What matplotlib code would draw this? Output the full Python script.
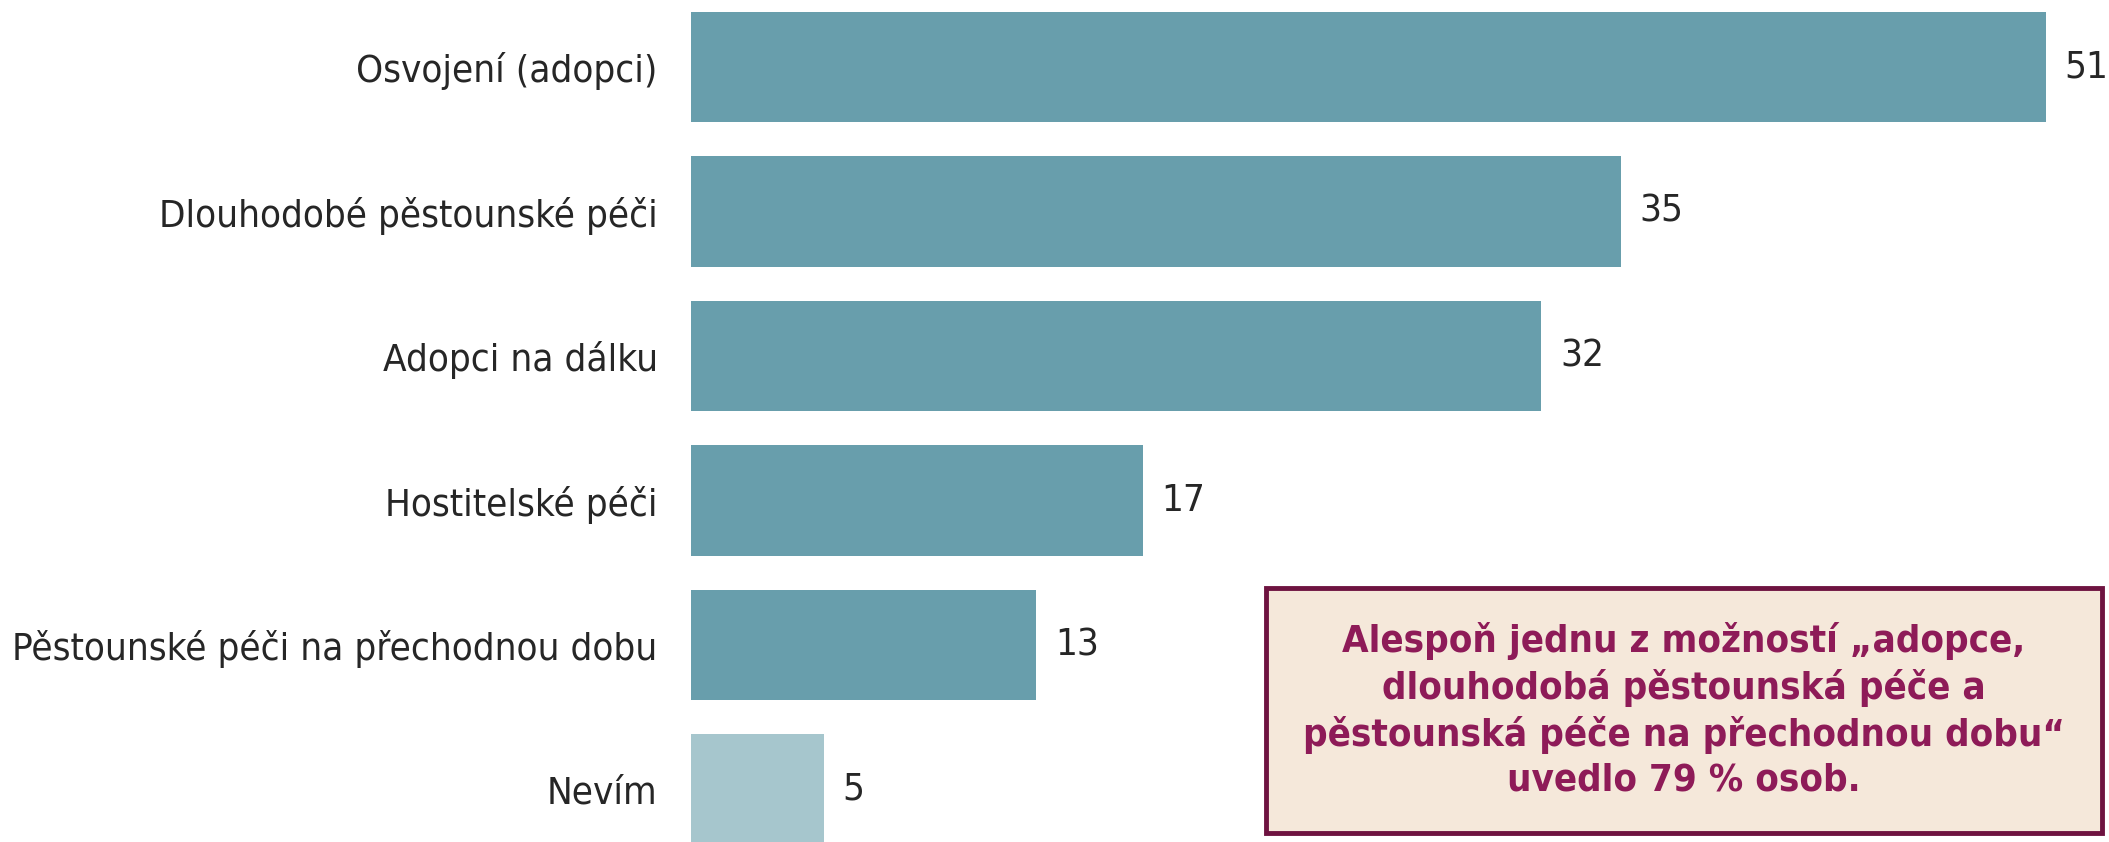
import matplotlib.pyplot as plt
from matplotlib.patches import Rectangle

# data
categories = ['Osvojení (adopci)', 'Dlouhodobé pěstounské péči', 'Adopci na dálku',
              'Hostitelské péči', 'Pěstounské péči na přechodnou dobu', 'Nevím']
values = [51, 35, 32, 17, 13, 5]
note = ('Alespoň jednu z možností „adopce,\n'
        'dlouhodobá pěstounská péče a\n'
        'pěstounská péče na přechodnou dobu“\n'
        'uvedlo 79 % osob.')

bar_color = '#689EAC'
light_color = '#A6C6CD'
text_color = '#262626'

W, H = 2109, 842
fig = plt.figure(figsize=(W / 100, H / 100), dpi=100)
ax = fig.add_axes([691 / W, 0, 1 - 691 / W, 1])

colors = [bar_color] * (len(values) - 1) + [light_color]
ypos = list(range(len(values)))
ax.barh(ypos, values, height=0.765, color=colors)

# pixel geometry: bar pitch 144.5 px, first bar centre at 67 px from top
ax.set_ylim((H - 67.2) / 144.5, -67.2 / 144.5)
ax.set_xlim(0, (W - 691) / 26.56)

font = dict(family='DejaVu Sans', stretch='condensed')
ax.set_yticks(ypos)
ax.set_yticklabels(categories, fontsize=27.6, color=text_color, **font)
ax.tick_params(axis='y', length=0, pad=24)
ax.set_xticks([])
for s in ax.spines.values():
    s.set_visible(False)

for y, v in zip(ypos, values):
    ax.annotate(str(v), (v, y), xytext=(19, 0), textcoords='offset pixels',
                va='center', ha='left', fontsize=27.6, color=text_color, **font)

# highlighted note box
x0, x1, y0, y1 = 1266, 2102, 588, 833
fig.patches.append(Rectangle((x0 / W, 1 - y1 / H), (x1 - x0) / W, (y1 - y0) / H,
                             transform=fig.transFigure, facecolor='#F5E8DA',
                             edgecolor='#6E1340', linewidth=3.5))
fig.text((x0 + x1) / 2 / W, 1 - (y0 + y1) / 2 / H, note, ha='center', va='center',
         fontsize=27.5, fontweight='bold', color='#8E1B58', linespacing=1.3, **font)

fig.savefig('out.png', dpi=100)
